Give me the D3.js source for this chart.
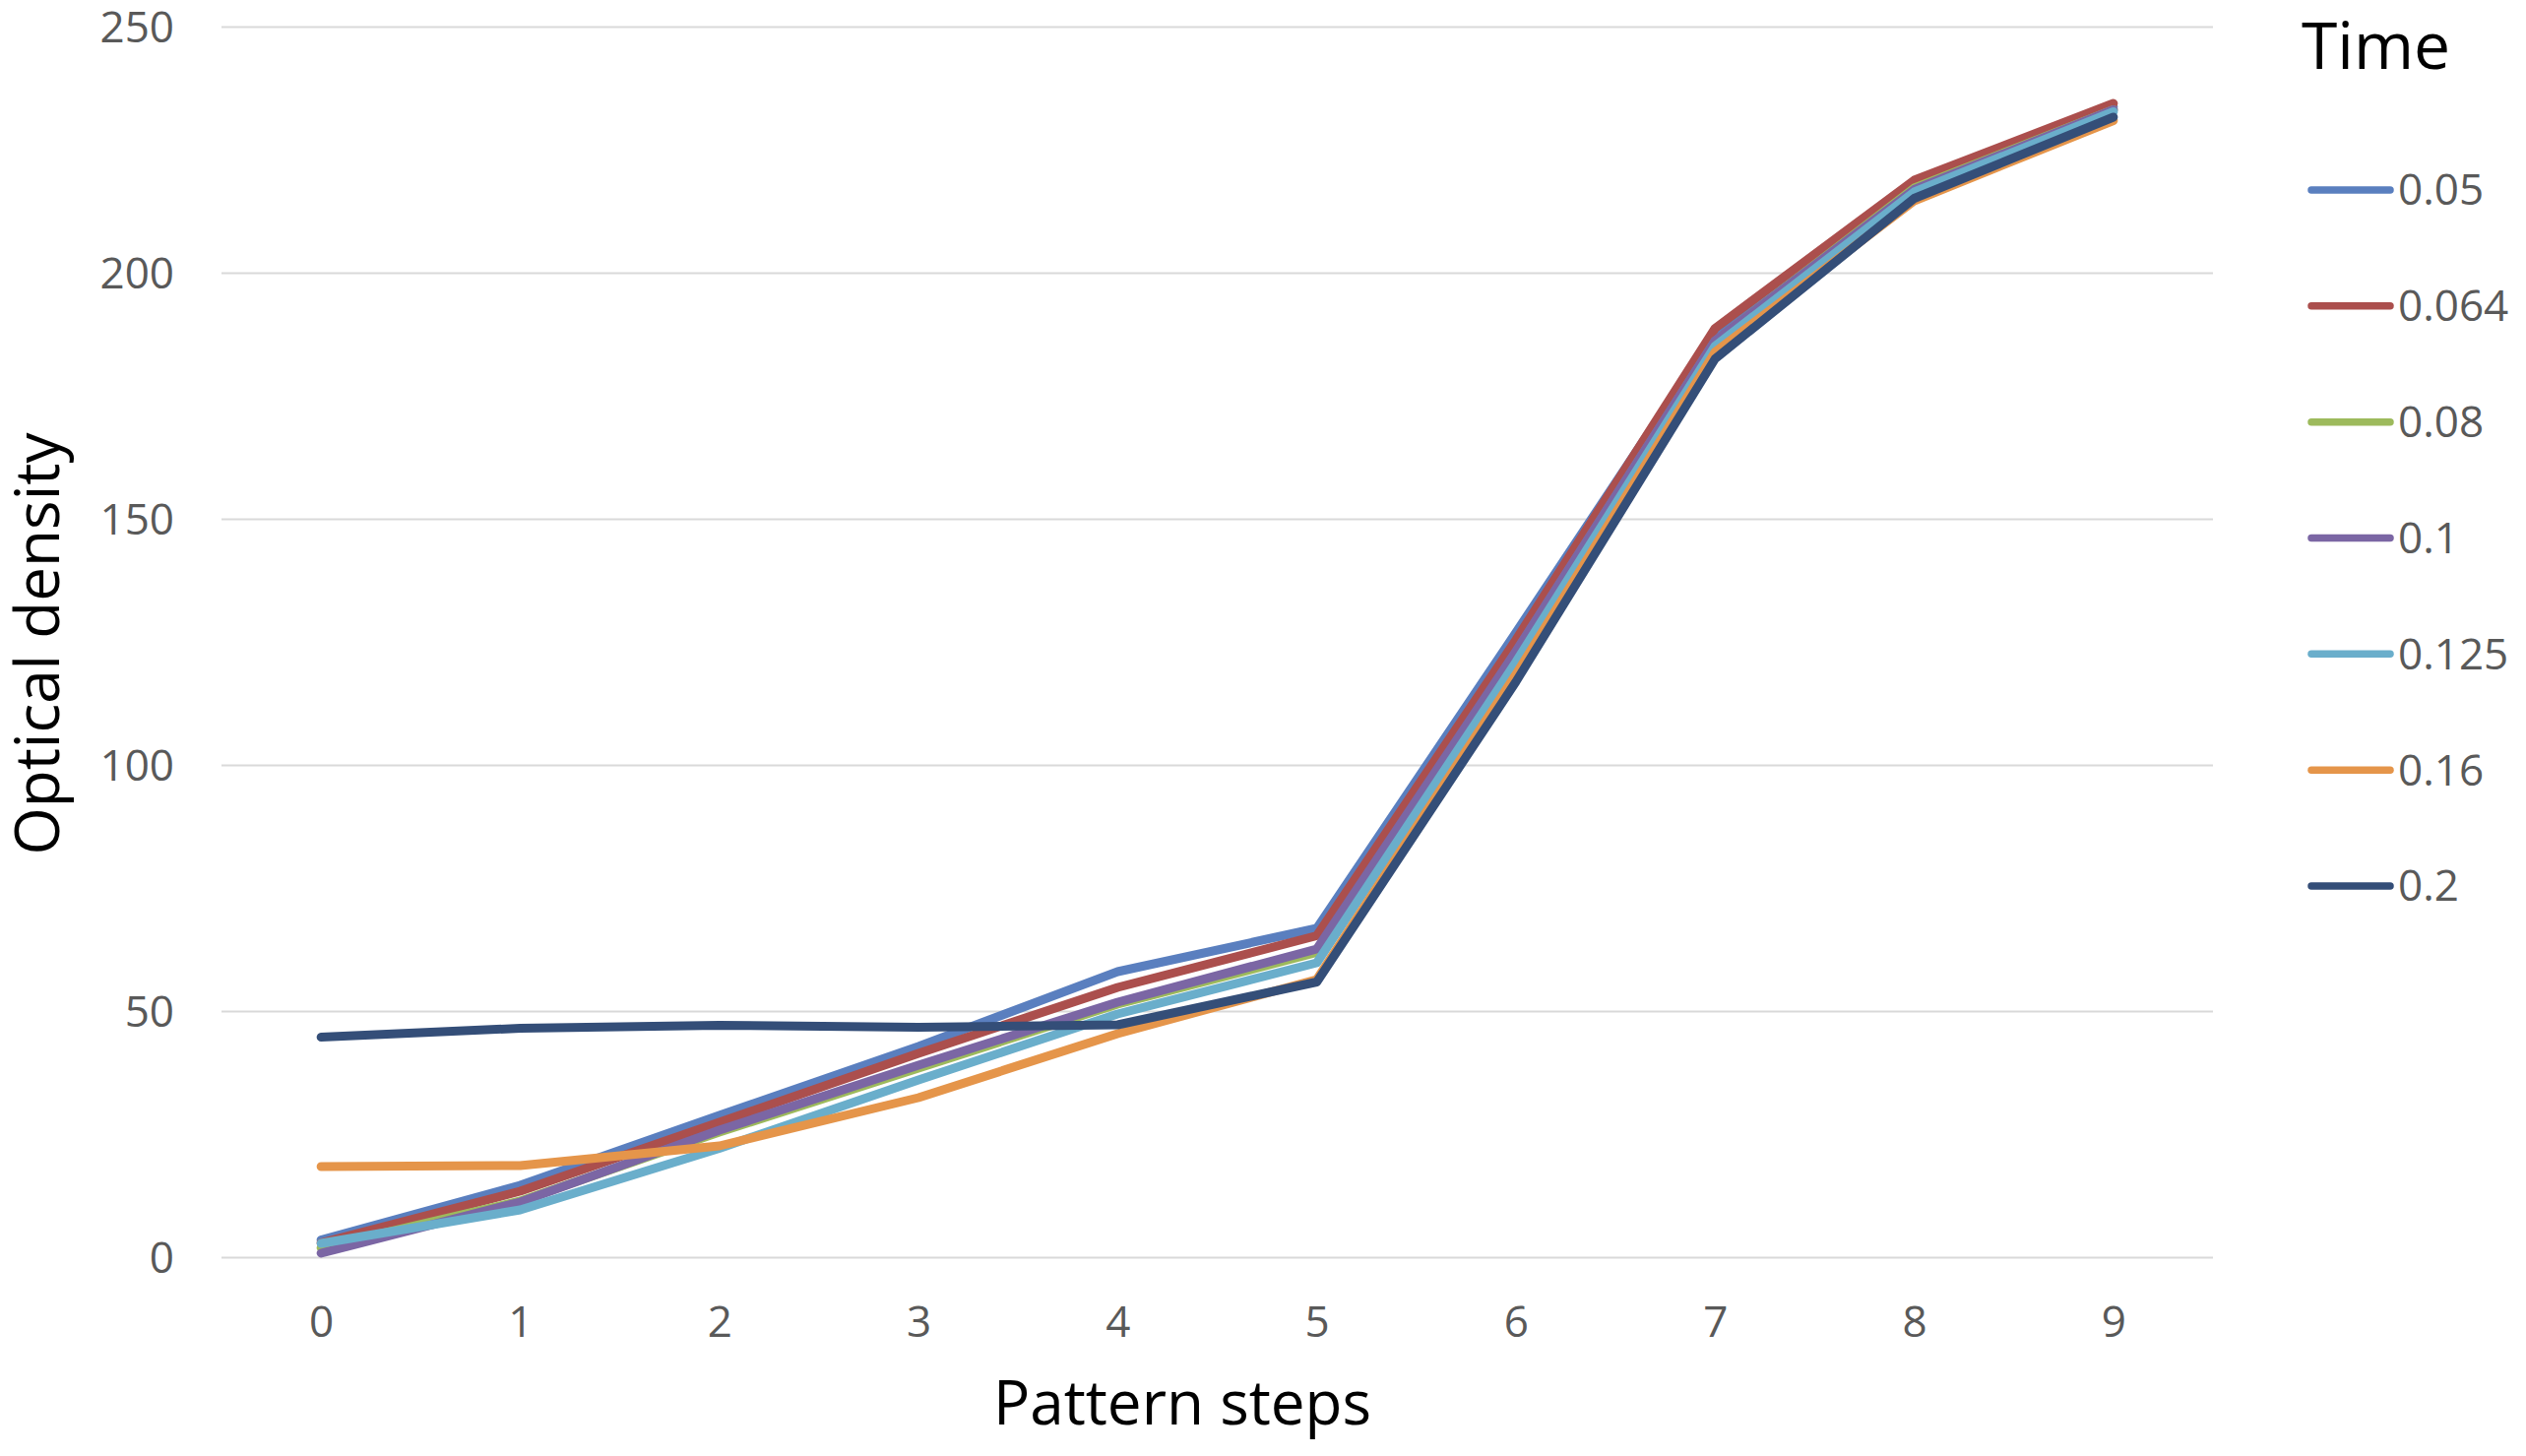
<!DOCTYPE html>
<html>
<head>
<meta charset="utf-8">
<script src="https://cdn.jsdelivr.net/npm/d3@7"></script>
<style>
  html, body { margin: 0; padding: 0; background: #ffffff; }
  svg { display: block; }
</style>
</head>
<body>
<svg id="chart" width="2566" height="1479"></svg>
<script>
// ---- Data ----
const steps = ["0", "1", "2", "3", "4", "5", "6", "7", "8", "9"];
const seriesNames = ["0.05", "0.064", "0.08", "0.1", "0.125", "0.16", "0.2"];
const s005  = [3.6, 14.7, 28.9, 42.9, 58.1, 66.9, 127.0, 187.8, 218.3, 233.8];
const s0064 = [3.0, 13.5, 27.5, 41.5, 54.9, 65.4, 125.5, 188.8, 218.9, 234.5];
const s008  = [2.0, 11.5, 25.5, 38.5, 51.5, 62.0, 123.0, 186.2, 217.3, 233.2];
const s01   = [0.9, 11.3, 25.9, 39.1, 51.9, 62.7, 123.2, 186.3, 217.0, 233.2];
const s0125 = [2.9, 9.7, 22.2, 36.1, 49.5, 59.9, 121.0, 185.2, 216.5, 232.8];
const s016  = [18.5, 18.7, 22.7, 32.5, 45.5, 56.5, 118.5, 184.0, 214.7, 231.0];
const s02   = [44.8, 46.6, 47.2, 46.8, 47.3, 56.0, 117.0, 182.6, 215.2, 231.7];
const yTicks = [0, 50, 100, 150, 200, 250];
const xTitle = "Pattern steps";
const yTitle = "Optical density";
const legendTitle = "Time";

const seriesValues = [s005, s0064, s008, s01, s0125, s016, s02];
const colors = ["#5a7fbf", "#ab4f4d", "#9dba5c", "#7b66a4", "#6aaecb", "#e5954a", "#344e78"];

// ---- Layout ----
const svg = d3.select("#chart");
const plotLeft = 225, plotRight = 2248, plotTop = 27.5, plotBottom = 1277.5;

const x = d3.scalePoint().domain(steps).range([plotLeft, plotRight]).padding(0.5);
const y = d3.scaleLinear().domain([0, 250]).range([plotBottom, plotTop]);

const font = "'Open Sans', 'Noto Sans', sans-serif";

// Gridlines
svg.append("g")
  .selectAll("line")
  .data(yTicks)
  .join("line")
  .attr("x1", plotLeft).attr("x2", plotRight)
  .attr("y1", d => y(d)).attr("y2", d => y(d))
  .attr("stroke", "#d9d9d9")
  .attr("stroke-width", 2.2);

// Y axis labels
const yAxis = d3.axisLeft(y).tickValues(yTicks).tickSize(0).tickPadding(0);
const yg = svg.append("g").attr("transform", `translate(177,0)`).call(yAxis);
yg.select(".domain").remove();
yg.selectAll("text")
  .attr("font-family", font)
  .attr("font-size", 44)
  .attr("fill", "#595959")
  .attr("dy", "0.35em");

// X axis labels
const xAxis = d3.axisBottom(x).tickSize(0).tickPadding(0);
const xg = svg.append("g").attr("transform", `translate(0,1327)`).call(xAxis);
xg.select(".domain").remove();
xg.selectAll("text")
  .attr("font-family", font)
  .attr("font-size", 44)
  .attr("fill", "#595959")
  .attr("dy", "0.71em");

// Lines
const line = d3.line()
  .x((d, i) => x(steps[i]))
  .y(d => y(d));

svg.append("g")
  .selectAll("path")
  .data(seriesValues)
  .join("path")
  .attr("d", d => line(d))
  .attr("fill", "none")
  .attr("stroke", (d, i) => colors[i])
  .attr("stroke-width", 9)
  .attr("stroke-linejoin", "round")
  .attr("stroke-linecap", "round");

// Axis titles
svg.append("text")
  .attr("x", 1201).attr("y", 1447)
  .attr("text-anchor", "middle")
  .attr("font-family", font)
  .attr("font-size", 62)
  .attr("fill", "#000000")
  .text(xTitle);

svg.append("text")
  .attr("transform", `translate(60,654) rotate(-90)`)
  .attr("text-anchor", "middle")
  .attr("font-family", font)
  .attr("font-size", 62)
  .attr("fill", "#000000")
  .text(yTitle);

// Legend
svg.append("text")
  .attr("x", 2338).attr("y", 70)
  .attr("font-family", font)
  .attr("font-size", 66)
  .attr("fill", "#000000")
  .text(legendTitle);

const legendY = d3.scalePoint().domain(seriesNames).range([193, 900]);
const lg = svg.append("g")
  .selectAll("g")
  .data(seriesNames)
  .join("g")
  .attr("transform", d => `translate(0,${legendY(d)})`);
lg.append("line")
  .attr("x1", 2348).attr("x2", 2428)
  .attr("y1", 0).attr("y2", 0)
  .attr("stroke", (d, i) => colors[i])
  .attr("stroke-width", 7.5)
  .attr("stroke-linecap", "round");
lg.append("text")
  .attr("x", 2436).attr("y", 0)
  .attr("dy", "0.35em")
  .attr("font-family", font)
  .attr("font-size", 44)
  .attr("fill", "#595959")
  .text(d => d);
</script>
</body>
</html>
